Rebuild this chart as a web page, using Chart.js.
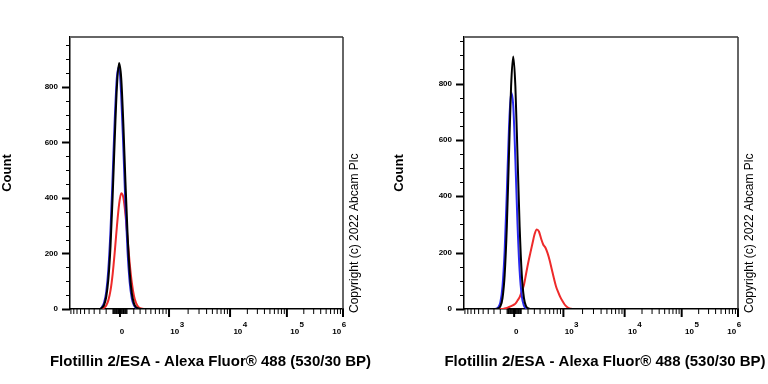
<!DOCTYPE html>
<html>
<head>
<meta charset="utf-8">
<script src="https://cdn.jsdelivr.net/npm/chart.js@4.4.1/dist/chart.umd.min.js"></script>
<style>
  body { margin: 0; background: #fff; }
  #wrap { position: relative; width: 768px; height: 384px; }
  canvas { position: absolute; top: 0; }
</style>
</head>
<body>
<div id="wrap">
  <canvas id="left" width="384" height="384" style="left:0"></canvas>
  <canvas id="right" width="384" height="384" style="left:384px"></canvas>
</div>
<script>
// display channels (0-1024 across the logicle axis)
const channels = [0,
  112, 120, 128, 136, 144, 152, 160, 168, 176, 184,
  192, 200, 208, 216, 224, 232, 240, 248, 256, 264,
  272, 280, 288, 296, 304, 312, 320, 328, 336, 344,
  352, 360, 368, 376, 384, 392, 400, 408,
  1024];

// left panel counts
const leftBlack = [0,
  0, 5, 15, 44, 108, 227, 406, 617, 801, 886,
  833, 669, 457, 267, 132, 56, 20, 6, 2, 0,
  0, 0, 0, 0, 0, 0, 0, 0, 0, 0,
  0, 0, 0, 0, 0, 0, 0, 0,
  0];
const leftBlue = [0,
  0, 7, 23, 62, 144, 284, 478, 685, 836, 874,
  772, 584, 376, 206, 96, 38, 13, 4, 1, 0,
  0, 0, 0, 0, 0, 0, 0, 0, 0, 0,
  0, 0, 0, 0, 0, 0, 0, 0,
  0];
const leftRed = [0,
  0, 1, 5, 13, 32, 67, 126, 207, 298, 376,
  417, 402, 340, 253, 164, 94, 47, 21, 8, 3,
  1, 0, 0, 0, 0, 0, 0, 0, 0, 0,
  0, 0, 0, 0, 0, 0, 0, 0,
  0];

// right panel counts
const rightBlack = [0,
  0, 0, 2, 10, 39, 121, 291, 544, 790, 896,
  790, 544, 291, 121, 39, 10, 2, 0, 0, 0,
  0, 0, 0, 0, 0, 0, 0, 0, 0, 0,
  0, 0, 0, 0, 0, 0, 0, 0,
  0];
const rightBlue = [0,
  0, 1, 6, 24, 81, 207, 411, 638, 769, 722,
  529, 301, 134, 46, 12, 3, 1, 0, 0, 0,
  0, 0, 0, 0, 0, 0, 0, 0, 0, 0,
  0, 0, 0, 0, 0, 0, 0, 0,
  0];
const rightRed = [0,
  0, 0, 0, 0, 0, 2, 4, 7, 10, 14,
  19, 30, 42, 63, 85, 125, 164, 199, 233, 266,
  282, 275, 250, 229, 218, 199, 173, 141, 109, 80,
  60, 42, 28, 16, 8, 3, 1, 0,
  0];

const yMajorTicks = [0, 200, 400, 600, 800];
const xMajorTicks = [0, 1e3, 1e4, 1e5, 1e6];
const xTickExponents = [null, 3, 4, 5, 6];
const xTitle = 'Flotillin 2/ESA - Alexa Fluor\u00AE 488 (530/30 BP)';
const yTitle = 'Count';
const copyright = 'Copyright (c) 2022 Abcam Plc';

const FONT = '"Liberation Sans", Arial, sans-serif';

function makeLogicle(T, W, M, A) {
  const w = W / (M + A), x2 = A / (M + A), x1 = x2 + w, x0 = x2 + 2 * w;
  const b = (M + A) * Math.LN10;
  let lo = 1e-9, hi = b;
  for (let i = 0; i < 100; i++) {
    const mid = (lo + hi) / 2;
    if (2 * (Math.log(mid) - Math.log(b)) + w * (b + mid) > 0) hi = mid; else lo = mid;
  }
  const d = (lo + hi) / 2;
  const ca = Math.exp(x0 * (b + d));
  const mfa = Math.exp(b * x1) - ca / Math.exp(d * x1);
  const a = T / ((Math.exp(b) - mfa) - ca / Math.exp(d));
  const c = ca * a, f = -mfa * a;
  const inv = y => {
    const neg = y < x1;
    const s = neg ? 2 * x1 - y : y;
    const v = a * Math.exp(b * s) + f - c * Math.exp(-d * s);
    return neg ? -v : v;
  };
  return raw => {
    let l = -1, h = 1.5;
    for (let i = 0; i < 80; i++) {
      const m = (l + h) / 2;
      if (inv(m) < raw) l = m; else h = m;
    }
    return (l + h) / 2;
  };
}

const logicle = makeLogicle(1e6, 0.5, 4.481, 0.392);
const toChannel = raw => 1024 * logicle(raw);

const xMinorTicks = [];
for (const s of [-1, 1]) {
  for (let e = 1; e <= 5; e++) {
    for (let m = 1; m <= 9; m++) {
      if (s > 0 && m === 1 && e >= 3) continue;
      xMinorTicks.push(s * m * Math.pow(10, e));
    }
  }
}

const framePlugin = {
  id: 'frame',
  afterDraw(chart, args, opts) {
    const { ctx, chartArea: ca, scales: { x, y } } = chart;
    ctx.save();
    // top and right border
    ctx.strokeStyle = '#666';
    ctx.lineWidth = 2;
    ctx.beginPath();
    ctx.moveTo(ca.left, ca.top);
    ctx.lineTo(ca.right, ca.top);
    ctx.stroke();
    ctx.strokeStyle = '#333';
    ctx.lineWidth = 1.5;
    ctx.beginPath();
    ctx.moveTo(ca.right, ca.top);
    ctx.lineTo(ca.right, ca.bottom);
    ctx.stroke();

    // y ticks
    ctx.strokeStyle = '#000';
    for (let v = 0; v <= y.max; v += 50) {
      const py = Math.round(y.getPixelForValue(v)) + 0.5;
      const major = yMajorTicks.includes(v);
      ctx.lineWidth = major ? 2 : 1;
      ctx.beginPath();
      ctx.moveTo(ca.left - (major ? 8 : 4), py);
      ctx.lineTo(ca.left, py);
      ctx.stroke();
    }

    // x ticks
    const drawXTick = (raw, len, lw) => {
      const ch = toChannel(raw);
      if (ch < 0 || ch > 1024) return null;
      const px = x.getPixelForValue(ch);
      ctx.lineWidth = lw;
      ctx.beginPath();
      ctx.moveTo(px, ca.bottom);
      ctx.lineTo(px, ca.bottom + len);
      ctx.stroke();
      return px;
    };
    xMinorTicks.forEach(v => drawXTick(v, 5, 1));
    ctx.fillStyle = '#000';
    ctx.textBaseline = 'middle';
    const shifts = [2, 8, 10, 10, -4];
    xMajorTicks.forEach((v, i) => {
      const px = drawXTick(v, 8, 2);
      if (px === null) return;
      ctx.font = 'bold 8px ' + FONT;
      const exp = xTickExponents[i];
      if (exp === null) {
        ctx.textAlign = 'center';
        ctx.fillText('0', px + shifts[i], 332);
      } else {
        const base = '10';
        const wBase = ctx.measureText(base).width;
        const wExp = ctx.measureText(String(exp)).width;
        const left = px + shifts[i] - (wBase + wExp) / 2;
        ctx.textAlign = 'left';
        ctx.fillText(base, left, 332);
        ctx.fillText(String(exp), left + wBase + 0.5, 325);
      }
    });

    // x axis title (drawn here so it is not squeezed to the plot width)
    ctx.font = 'bold 15px ' + FONT;
    ctx.textAlign = 'center';
    ctx.textBaseline = 'middle';
    ctx.fillText(xTitle, (ca.left + ca.right) / 2 + 4, 362);

    // copyright
    ctx.translate(opts.copyX, 313);
    ctx.rotate(-Math.PI / 2);
    ctx.font = '12px ' + FONT;
    ctx.textAlign = 'left';
    ctx.textBaseline = 'middle';
    ctx.fillText(copyright, 0, 0);
    ctx.restore();
  }
};

function series(vals, color) {
  return {
    data: channels.map((c, i) => ({ x: c, y: vals[i] })),
    borderColor: color,
    borderWidth: 2,
    pointRadius: 0,
    fill: false,
    cubicInterpolationMode: 'monotone'
  };
}

function makeChart(id, sets, yMax, plotLeft, rightPad, titlePad, copyX) {
  return new Chart(document.getElementById(id), {
    type: 'line',
    data: { datasets: sets },
    plugins: [framePlugin],
    options: {
      responsive: false,
      animation: false,
      layout: { padding: { top: 37, right: rightPad, left: 0, bottom: 0 } },
      plugins: {
        legend: { display: false },
        tooltip: { enabled: false },
        frame: { copyX: copyX }
      },
      scales: {
        x: {
          type: 'linear',
          min: 0,
          max: 1024,
          grid: { display: false, drawTicks: false },
          border: { display: true, color: '#000', width: 1.5 },
          ticks: { display: false },
          afterFit: s => { s.height = 75; }
        },
        y: {
          min: 0,
          max: yMax,
          grid: { display: false, drawTicks: false },
          border: { display: true, color: '#000', width: 1.5 },
          afterBuildTicks: s => { s.ticks = yMajorTicks.map(v => ({ value: v })); },
          afterFit: s => { s.width = plotLeft; },
          ticks: {
            color: '#000',
            padding: 12,
            font: { family: FONT, size: 8, weight: 'bold' }
          },
          title: {
            display: true,
            text: yTitle,
            color: '#000',
            font: { family: FONT, size: 13, weight: 'bold' },
            padding: { top: titlePad, bottom: 0 }
          }
        }
      }
    }
  });
}

makeChart('left', [series(leftBlack, '#000000'), series(leftBlue, '#2222cc'), series(leftRed, '#ee2a2a')],
  980, 70, 41, 0, 355);
makeChart('right', [series(rightBlack, '#000000'), series(rightBlue, '#2a2af0'), series(rightRed, '#ee2a2a')],
  965, 80, 30, 8, 366);
</script>
</body>
</html>
